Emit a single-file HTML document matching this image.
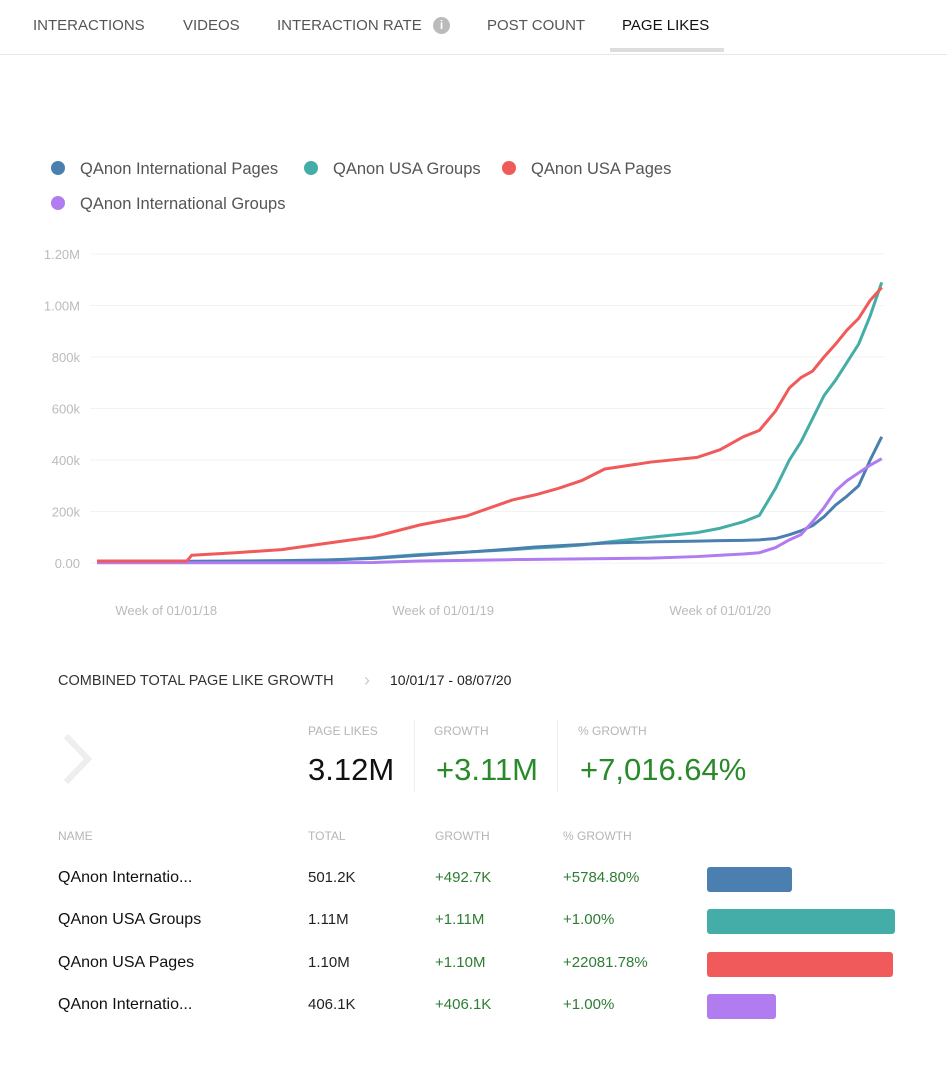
<!DOCTYPE html>
<html><head><meta charset="utf-8">
<style>
body{margin:0;width:947px;height:1066px;background:#fff;font-family:"Liberation Sans",sans-serif;position:relative;overflow:hidden}
.a{position:absolute;white-space:nowrap}
.tab{top:17px;font-size:15px;color:#555}
.hd{font-size:12px;color:#b5b5b5}
.nm{font-size:16px;color:#111}
.v{font-size:15px;color:#222}
.g{font-size:15px;color:#2e7d32}
</style></head><body>
<div class="a tab" style="left:33px">INTERACTIONS</div>
<div class="a tab" style="left:183px">VIDEOS</div>
<div class="a tab" style="left:277px">INTERACTION RATE</div>
<div class="a" style="left:433px;top:17px;width:17px;height:17px;border-radius:50%;background:#bbb;color:#fff;font-size:12px;font-weight:bold;text-align:center;line-height:17px">i</div>
<div class="a tab" style="left:487px">POST COUNT</div>
<div class="a tab" style="left:622px;color:#111">PAGE LIKES</div>
<div class="a" style="left:610px;top:48px;width:114px;height:4px;background:#ddd"></div>
<div class="a" style="left:0;top:54px;width:947px;height:1px;background:#e6e6e6"></div>

<svg class="a" style="left:0;top:140px" width="947" height="500" id="chart"></svg>

<div class="a" style="left:58px;top:673px;font-size:14.5px;color:#333">COMBINED TOTAL PAGE LIKE GROWTH</div>
<div class="a" style="left:364px;top:670px;font-size:18px;color:#ccc">›</div>
<div class="a" style="left:390px;top:672px;font-size:14px;color:#222">10/01/17 - 08/07/20</div>
<svg class="a" style="left:58px;top:732px" width="40" height="54"><path d="M8 4 L30 27 L8 50" fill="none" stroke="#eee" stroke-width="6"/></svg>
<div class="a hd" style="left:308px;top:724px">PAGE LIKES</div>
<div class="a hd" style="left:434px;top:724px">GROWTH</div>
<div class="a hd" style="left:578px;top:724px">% GROWTH</div>
<div class="a" style="left:414px;top:720px;width:1px;height:72px;background:#eee"></div>
<div class="a" style="left:557px;top:720px;width:1px;height:72px;background:#eee"></div>
<div class="a" style="left:308px;top:752px;font-size:31px;color:#111">3.12M</div>
<div class="a" style="left:436px;top:752px;font-size:31px;color:#2a8a2a">+3.11M</div>
<div class="a" style="left:580px;top:752px;font-size:31px;color:#2a8a2a">+7,016.64%</div>

<div class="a hd" style="left:58px;top:829px">NAME</div>
<div class="a hd" style="left:308px;top:829px">TOTAL</div>
<div class="a hd" style="left:435px;top:829px">GROWTH</div>
<div class="a hd" style="left:563px;top:829px">% GROWTH</div>
<div id="rows"></div>

<script>
const NS='http://www.w3.org/2000/svg';
const seriesNames=['QAnon International Pages','QAnon USA Groups','QAnon USA Pages','QAnon International Groups'];
const colors=['#4a7fb0','#45ada8','#f05a5a','#b07cf0'];
const months=[0,3.9,4.1,6,8,10,12,14,16,18,19,20,21,22,24,26,27,28,28.7,29.4,30,30.5,31,31.5,32,32.5,33,33.5,34];
const intlPages=[5,6,7,8,9,12,18,30,42,55,62,67,72,77,82,85,87,88,90,95,110,125,145,180,225,260,300,400,490];
const usaGroups=[3,4,5,6,8,10,20,33,42,52,58,63,70,80,100,118,135,160,185,290,400,470,560,650,710,780,850,960,1090];
const usaPages=[8,8,30,40,52,77,102,148,182,245,265,290,320,365,392,410,440,490,515,590,680,720,745,800,850,905,950,1020,1070];
const intlGroups=[1,1,1,1,1,1,2,8,10,13,14,15,16,17,19,25,30,35,40,60,90,110,160,215,280,320,350,380,405];
const yTicks=[0,200,400,600,800,1000,1200];
const yTickLabels=['0.00','200k','400k','600k','800k','1.00M','1.20M'];
const xTickMonths=[3,15,27];
const xTickLabels=['Week of 01/01/18','Week of 01/01/19','Week of 01/01/20'];
const X=m=>97+m*23.08, Y=v=>423-v*0.2575;
const svg=document.getElementById('chart');
function mk(t,a){const e=document.createElementNS(NS,t);for(const k in a)e.setAttribute(k,a[k]);svg.appendChild(e);return e;}
yTicks.forEach((t,i)=>{
 const l=mk('line',{x1:90,x2:885,y1:Y(t),y2:Y(t),stroke:'#f3f3f3'});
 
 
 const tx=mk('text',{x:80,y:Y(t)+5,'text-anchor':'end','font-size':13,fill:'#bbb','font-family':'Liberation Sans'});
 tx.textContent=yTickLabels[i];
 
 
});
xTickMonths.forEach((m,i)=>{
 const tx=mk('text',{x:X(m),y:475,'text-anchor':'middle','font-size':13,fill:'#bbb','font-family':'Liberation Sans'});
 tx.textContent=xTickLabels[i];
 
 
});
const data=[intlPages,usaGroups,usaPages,intlGroups];
[1,0,3,2].forEach(si=>{
 const p=mk('polyline',{points:months.map((m,i)=>X(m)+','+Y(data[si][i])).join(' '),fill:'none',stroke:colors[si],'stroke-width':3,'stroke-linejoin':'round'});
 
 
});
const legPos=[[58,28],[311,28],[509,28],[58,63]];
seriesNames.forEach((n,i)=>{
 const c=mk('circle',{cx:legPos[i][0],cy:legPos[i][1],r:7,fill:colors[i]});
 
 
 const t=mk('text',{x:legPos[i][0]+22,y:legPos[i][1]+6,'font-size':16.5,fill:'#555','font-family':'Liberation Sans'});
 t.textContent=n;
 
 
});
const rowNames=['QAnon Internatio...','QAnon USA Groups','QAnon USA Pages','QAnon Internatio...'];
const totals=[501.2,1110,1100,406.1];
const totalLabels=['501.2K','1.11M','1.10M','406.1K'];
const growthLabels=['+492.7K','+1.11M','+1.10M','+406.1K'];
const pctLabels=['+5784.80%','+1.00%','+22081.78%','+1.00%'];
const rows=document.getElementById('rows');
rowNames.forEach((n,i)=>{
 const y=879+i*42.3;
 const cells=[[58,n,'nm'],[308,totalLabels[i],'v'],[435,growthLabels[i],'g'],[563,pctLabels[i],'g']];
 cells.forEach(c=>{const d=document.createElement('div');d.className='a '+c[2];d.style.left=c[0]+'px';d.style.top=(y-10)+'px';d.textContent=c[1];
  
  
  rows.appendChild(d);});
 const b=document.createElement('div');b.className='a';
 b.style.cssText=`left:707px;top:${y-12}px;height:25px;border-radius:3px;background:${colors[i]};width:${totals[i]/1110*188}px`;
 
 
 rows.appendChild(b);
});
</script>
</body></html>
